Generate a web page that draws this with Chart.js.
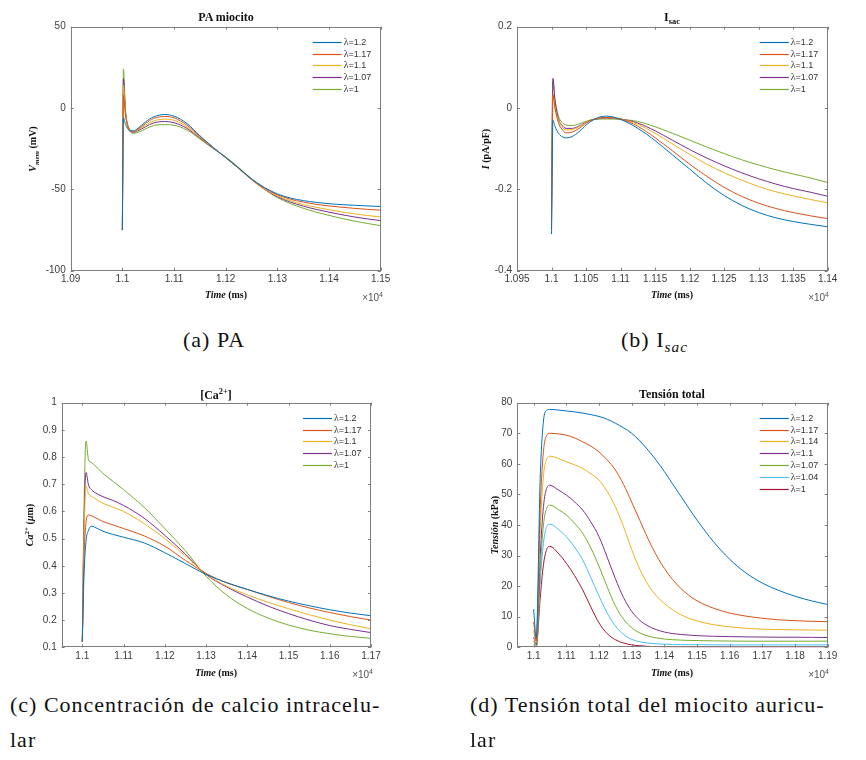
<!DOCTYPE html>
<html lang="es">
<head>
<meta charset="utf-8">
<title>Miocito auricular</title>
<script src="https://cdn.jsdelivr.net/npm/chart.js@4.4.1/dist/chart.umd.min.js"></script>
<style>
  html, body { margin: 0; padding: 0; background: #fff; }
  #page { position: relative; width: 866px; height: 760px; overflow: hidden; background: #fff; }
  canvas { position: absolute; }
  .lbl { position: absolute; white-space: nowrap; font-family: "Liberation Serif", "Times New Roman", serif; font-weight: bold; color: #111; line-height: 1; }
  .title { font-size: 12px; transform: translate(-50%, -50%); }
  .xlab { font-size: 10px; transform: translate(-50%, -50%); }
  .ylab { font-size: 10px; transform: translate(-50%, -50%) rotate(-90deg); }
  .exp { position: absolute; font-family: "Liberation Sans", Arial, sans-serif; font-size: 10px; color: #555; transform: translate(-100%, -50%); white-space: nowrap; line-height: 1; }
  .cap { position: absolute; font-family: "Liberation Serif", serif; font-size: 22px; color: #111; letter-spacing: 1px; white-space: nowrap; line-height: 1; transform: translateY(-50%); }
  sub, sup { font-size: 70%; line-height: 0; }
</style>
</head>
<body>
<div id="page">
  <canvas id="chartPA" width="433" height="310" style="left:0;top:0"></canvas>
  <canvas id="chartIsac" width="433" height="310" style="left:433px;top:0"></canvas>
  <canvas id="chartCa" width="433" height="300" style="left:0;top:380px"></canvas>
  <canvas id="chartTen" width="433" height="300" style="left:433px;top:380px"></canvas>

  <div class="lbl title" style="left:226px;top:17px">PA miocito</div>
  <div class="lbl xlab" style="left:226px;top:295px"><i>Time</i> (ms)</div>
  <div class="lbl ylab" style="left:33px;top:149px"><i>V<sub>mem</sub></i> (mV)</div>
  <div class="exp" style="left:383px;top:298px">&times;10<sup>4</sup></div>

  <div class="lbl title" style="left:672px;top:17px">I<sub>sac</sub></div>
  <div class="lbl xlab" style="left:672px;top:295px"><i>Time</i> (ms)</div>
  <div class="lbl ylab" style="left:486px;top:149px"><i>I</i> (pA/pF)</div>
  <div class="exp" style="left:829px;top:298px">&times;10<sup>4</sup></div>

  <div class="lbl title" style="left:216px;top:395px">[Ca<sup>2+</sup>]</div>
  <div class="lbl xlab" style="left:216px;top:673px"><i>Time</i> (ms)</div>
  <div class="lbl ylab" style="left:30px;top:525px"><i>Ca</i><sup>2+</sup> (<i>&mu;</i>m)</div>
  <div class="exp" style="left:373px;top:675px">&times;10<sup>4</sup></div>

  <div class="lbl title" style="left:672px;top:394px">Tensión total</div>
  <div class="lbl xlab" style="left:672px;top:673px"><i>Time</i> (ms)</div>
  <div class="lbl ylab" style="left:495px;top:525px"><i>Tensión</i> (kPa)</div>
  <div class="exp" style="left:829px;top:675px">&times;10<sup>4</sup></div>

  <div class="cap" style="left:183px;top:340px">(a) PA</div>
  <div class="cap" style="left:621px;top:340px">(b) I<sub><i>sac</i></sub></div>
  <div class="cap" style="left:10px;top:705px">(c) Concentración de calcio intracelu-</div>
  <div class="cap" style="left:10px;top:740px">lar</div>
  <div class="cap" style="left:470px;top:705px">(d) Tensión total del miocito auricu-</div>
  <div class="cap" style="left:470px;top:740px">lar</div>
</div>

<script>
// legend entries
const lambdas5 = ['λ=1.2', 'λ=1.17', 'λ=1.1', 'λ=1.07', 'λ=1'];
const lambdas7 = ['λ=1.2', 'λ=1.17', 'λ=1.14', 'λ=1.1', 'λ=1.07', 'λ=1.04', 'λ=1'];

// (a) potencial de accion, time in ms x10^4
const paTime = [1.1, 1.1002, 1.1006, 1.101, 1.1015, 1.1022, 1.103, 1.1045, 1.106, 1.1082, 1.11, 1.1125,
  1.115, 1.1175, 1.12, 1.1225, 1.125, 1.1275, 1.13, 1.1325, 1.135, 1.1375, 1.14, 1.1425, 1.145, 1.1475, 1.15];
const pa120 = [-75, -6, -10, -12.5, -14, -14, -12.5, -8.5, -5.5, -4, -5, -9.5, -17, -24, -30.5, -37, -43.5, -48.8, -52.8, -55.3, -56.9, -58, -58.8, -59.4, -59.8, -60.2, -60.5];
const pa117 = [-75, 8, -4, -10, -13.5, -14.5, -13, -9.5, -6.5, -5.2, -6, -10.5, -17.5, -24, -30.5, -37, -43.8, -49.3, -53.3, -56, -57.8, -59.2, -60.2, -61, -61.7, -62.3, -62.8];
const pa110 = [-75, 14, -3, -10.5, -14, -14.8, -13.5, -10.5, -8, -6.8, -7.5, -11.5, -18, -24.3, -30.3, -37, -44, -49.8, -54, -57, -59.3, -61, -62.5, -63.9, -65.1, -66.1, -67];
const pa107 = [-75, 18, -2, -10.5, -14.2, -15, -14, -11.5, -9.2, -8.3, -9, -12.5, -18.5, -24.5, -30.3, -37, -44, -50, -54.5, -57.8, -60.3, -62.3, -64, -65.6, -67, -68.2, -69.2];
const pa100 = [-75, 24, -1, -11, -14.5, -15.5, -15, -12.8, -10.8, -10.2, -10.6, -13.5, -19, -24.8, -30, -36.5, -43.5, -49.8, -55, -58.7, -61.6, -64, -66, -67.9, -69.6, -71, -72.3];
const paXTicks = [1.09, 1.1, 1.11, 1.12, 1.13, 1.14, 1.15];
const paYTicks = [-100, -50, 0, 50];

// (b) corriente Isac
const isacTime = [1.1, 1.1002, 1.1005, 1.101, 1.1015, 1.1021, 1.103, 1.104, 1.1055, 1.107, 1.108, 1.11,
  1.1125, 1.115, 1.1175, 1.12, 1.1225, 1.125, 1.1275, 1.13, 1.1325, 1.135, 1.1375, 1.14];
const isac120 = [-0.31, -0.03, -0.045, -0.062, -0.07, -0.0735, -0.07, -0.058, -0.035, -0.022, -0.02, -0.028, -0.05, -0.08, -0.115, -0.15, -0.185, -0.215, -0.239, -0.257, -0.27, -0.279, -0.286, -0.292];
const isac117 = [-0.30, 0.034, 0.0, -0.036, -0.052, -0.061, -0.059, -0.05, -0.032, -0.024, -0.023, -0.027, -0.045, -0.073, -0.105, -0.138, -0.168, -0.195, -0.217, -0.234, -0.247, -0.257, -0.265, -0.272];
const isac110 = [-0.28, 0.03, 0.0, -0.03, -0.046, -0.054, -0.053, -0.046, -0.031, -0.025, -0.024, -0.027, -0.04, -0.062, -0.088, -0.114, -0.138, -0.159, -0.177, -0.193, -0.206, -0.216, -0.225, -0.233];
const isac107 = [-0.25, 0.073, 0.02, -0.026, -0.042, -0.05, -0.05, -0.044, -0.031, -0.026, -0.025, -0.027, -0.037, -0.056, -0.079, -0.102, -0.123, -0.142, -0.159, -0.174, -0.187, -0.198, -0.207, -0.217];
const isac100 = [-0.19, 0.067, 0.02, -0.02, -0.035, -0.042, -0.043, -0.039, -0.030, -0.027, -0.027, -0.028, -0.033, -0.046, -0.062, -0.079, -0.096, -0.112, -0.127, -0.14, -0.152, -0.162, -0.172, -0.183];
const isacXTicks = [1.095, 1.1, 1.105, 1.11, 1.115, 1.12, 1.125, 1.13, 1.135, 1.14];
const isacYTicks = [-0.4, -0.2, 0, 0.2];

// (c) calcio intracelular
const caTime = [1.1, 1.1004, 1.1009, 1.1015, 1.1022, 1.103, 1.105, 1.1075, 1.11, 1.115, 1.12, 1.125,
  1.13, 1.135, 1.14, 1.145, 1.15, 1.155, 1.16, 1.165, 1.17];
const ca120 = [0.12, 0.36, 0.49, 0.53, 0.546, 0.542, 0.527, 0.515, 0.505, 0.484, 0.448, 0.408, 0.368, 0.338, 0.313, 0.29, 0.27, 0.253, 0.238, 0.226, 0.216];
const ca117 = [0.12, 0.42, 0.56, 0.587, 0.584, 0.578, 0.563, 0.55, 0.537, 0.51, 0.472, 0.42, 0.372, 0.337, 0.313, 0.288, 0.265, 0.245, 0.228, 0.213, 0.2];
const ca110 = [0.12, 0.5, 0.693, 0.665, 0.655, 0.648, 0.63, 0.615, 0.6, 0.555, 0.5, 0.436, 0.37, 0.325, 0.293, 0.266, 0.242, 0.22, 0.2, 0.183, 0.168];
const ca107 = [0.12, 0.55, 0.743, 0.697, 0.68, 0.67, 0.654, 0.64, 0.622, 0.575, 0.512, 0.443, 0.368, 0.322, 0.285, 0.252, 0.224, 0.2, 0.18, 0.166, 0.154];
const ca100 = [0.12, 0.6, 0.859, 0.79, 0.78, 0.77, 0.74, 0.71, 0.68, 0.615, 0.537, 0.455, 0.362, 0.292, 0.243, 0.208, 0.182, 0.163, 0.15, 0.14, 0.133];
const caXTicks = [1.1, 1.11, 1.12, 1.13, 1.14, 1.15, 1.16, 1.17];
const caYTicks = [0.1, 0.2, 0.3, 0.4, 0.5, 0.6, 0.7, 0.8, 0.9, 1];

// (d) tension total (kPa)
const tenTime = [1.1, 1.1008, 1.102, 1.103, 1.104, 1.105, 1.1075, 1.11, 1.1125, 1.115, 1.1175, 1.12,
  1.1225, 1.125, 1.1275, 1.13, 1.1325, 1.135, 1.1375, 1.14, 1.1425, 1.145, 1.1475, 1.15, 1.155, 1.16,
  1.165, 1.17, 1.175, 1.18, 1.185, 1.19];
const ten120 = [12.5, 3, 55, 74, 77.5, 77.8, 77.6, 77.3, 77, 76.6, 76.1, 75.5, 74.6, 73.3, 71.8, 70, 67.5, 64.5, 61.2, 57.5, 53.5, 49.5, 45.5, 41.6, 34.6, 28.8, 24.3, 21, 18.6, 16.7, 15.2, 14];
const ten117 = [8.3, 2, 45, 64, 69.3, 70, 69.8, 69.4, 68.5, 67.2, 65.8, 63.9, 61.3, 58, 53.3, 47.5, 41.5, 35.5, 30.2, 25.8, 22.2, 19.3, 17, 15.2, 12.8, 11.2, 10.2, 9.5, 9, 8.7, 8.5, 8.4];
const ten114 = [5.6, 1.5, 38, 56, 61.5, 62.5, 61.8, 60.7, 59.7, 58.5, 56.8, 54.7, 51, 46, 39.5, 32, 25.5, 20.5, 16.9, 14.3, 12.3, 10.7, 9.5, 8.6, 7.4, 6.7, 6.2, 5.9, 5.8, 5.7, 5.65, 5.6];
const ten110 = [3.3, 1, 30, 46, 52, 53, 51.5, 49.8, 47.6, 44.9, 41, 36.2, 29.5, 22.5, 16.3, 11.8, 8.8, 7, 5.8, 5, 4.5, 4.2, 4, 3.8, 3.6, 3.5, 3.4, 3.35, 3.3, 3.3, 3.25, 3.2];
const ten107 = [2, 0.5, 25, 40, 45.5, 46.5, 45.1, 43.3, 40.6, 37.3, 32.5, 26.5, 19.8, 13.6, 9.2, 6.4, 4.7, 3.7, 3.1, 2.7, 2.5, 2.35, 2.25, 2.2, 2.1, 2.05, 2, 2, 2, 2, 2, 2];
const ten104 = [0.9, 0.3, 21, 34, 39.5, 40.3, 38.6, 36.2, 32.8, 28.6, 22.8, 16.8, 11.3, 7, 4.2, 2.6, 1.8, 1.4, 1.15, 1, 0.95, 0.9, 0.85, 0.85, 0.8, 0.8, 0.8, 0.8, 0.8, 0.8, 0.8, 0.8];
const ten100 = [0.3, 0.1, 16, 27, 32, 33, 30.8, 27.5, 23.5, 18.8, 13.2, 8, 4.5, 2.5, 1.4, 0.8, 0.5, 0.3, 0.2, 0.1, 0.08, 0.05, 0.03, 0, 0, 0, 0, 0, 0, 0, 0, 0];
const tenXTicks = [1.1, 1.11, 1.12, 1.13, 1.14, 1.15, 1.16, 1.17, 1.18, 1.19];
const tenYTicks = [0, 10, 20, 30, 40, 50, 60, 70, 80];

// matlab default line colours
const matlabColors = ['#0072BD', '#D95319', '#EDB120', '#7E2F8E', '#77AC30', '#4DBEEE', '#A2142F'];
const tickColor = '#3c3c3c';
const tickFont = { family: '"Liberation Sans", Arial, sans-serif', size: 10 };

function fmtTick(v) {
    return String(+Number(v).toFixed(4));
}

// axes box with inward ticks on all four sides, like matlab "box on"
const boxTicks = {
    id: 'boxTicks',
    afterDraw(chart) {
        const { ctx, chartArea: a, scales } = chart;
        const len = 3;
        ctx.save();
        ctx.strokeStyle = '#7d7d7d';
        ctx.lineWidth = 1;
        ctx.strokeRect(Math.round(a.left) + 0.5, Math.round(a.top) + 0.5,
            Math.round(a.right) - Math.round(a.left) - 1, Math.round(a.bottom) - Math.round(a.top) - 1);
        ctx.beginPath();
        scales.x.ticks.forEach(t => {
            const px = Math.round(scales.x.getPixelForValue(t.value)) + 0.5;
            ctx.moveTo(px, a.bottom); ctx.lineTo(px, a.bottom - len);
            ctx.moveTo(px, a.top); ctx.lineTo(px, a.top + len);
        });
        scales.y.ticks.forEach(t => {
            const py = Math.round(scales.y.getPixelForValue(t.value)) + 0.5;
            ctx.moveTo(a.left, py); ctx.lineTo(a.left + len, py);
            ctx.moveTo(a.right, py); ctx.lineTo(a.right - len, py);
        });
        ctx.stroke();
        ctx.restore();
    }
};

// legend drawn inside the plot, top right, no frame
const insideLegend = {
    id: 'insideLegend',
    afterDraw(chart) {
        const { ctx, chartArea: a } = chart;
        ctx.save();
        chart.data.datasets.forEach((ds, i) => {
            const yy = Math.round(a.top + 15 + i * 11.8) + 0.5;
            ctx.strokeStyle = ds.borderColor;
            ctx.lineWidth = 1.2;
            ctx.beginPath();
            ctx.moveTo(a.right - 68, yy);
            ctx.lineTo(a.right - 39, yy);
            ctx.stroke();
            ctx.textBaseline = 'middle';
            ctx.fillStyle = '#333';
            ctx.font = '10px "Liberation Serif", serif';
            const sym = ds.label.charAt(0);
            ctx.fillText(sym, a.right - 37, yy);
            const w = ctx.measureText(sym).width;
            ctx.font = '9px "Liberation Sans", Arial, sans-serif';
            ctx.fillText(ds.label.slice(1), a.right - 37 + w, yy);
        });
        ctx.restore();
    }
};

function makeChart(id, cfg) {
    const canvas = document.getElementById(id);
    const W = canvas.width, H = canvas.height;
    const a = cfg.area;

    const datasets = cfg.series.map((ys, i) => ({
        label: cfg.labels[i],
        data: cfg.time.map((t, k) => ({ x: t, y: ys[k] })),
        borderColor: matlabColors[i],
        backgroundColor: matlabColors[i],
        borderWidth: 1,
        pointRadius: 0,
        fill: false,
        cubicInterpolationMode: 'monotone'
    }));

    return new Chart(canvas, {
        type: 'line',
        data: { datasets },
        options: {
            responsive: false,
            animation: false,
            events: [],
            layout: { padding: { left: 0, top: a.top, right: W - a.right, bottom: H - a.bottom - 20 } },
            plugins: { legend: { display: false }, tooltip: { enabled: false } },
            scales: {
                x: {
                    type: 'linear',
                    min: cfg.xMin,
                    max: cfg.xMax,
                    afterBuildTicks: s => { s.ticks = cfg.xTicks.map(v => ({ value: v })); },
                    afterFit: s => { s.height = 20; },
                    grid: { display: false, drawTicks: false },
                    border: { display: false },
                    ticks: { autoSkip: false, maxRotation: 0, padding: 3, color: tickColor, font: tickFont, callback: fmtTick }
                },
                y: {
                    type: 'linear',
                    min: cfg.yMin,
                    max: cfg.yMax,
                    afterBuildTicks: s => { s.ticks = cfg.yTicks.map(v => ({ value: v })); },
                    afterFit: s => { s.width = a.left; },
                    grid: { display: false, drawTicks: false },
                    border: { display: false },
                    ticks: { autoSkip: false, padding: 5, color: tickColor, font: tickFont, callback: fmtTick }
                }
            }
        },
        plugins: [boxTicks, insideLegend]
    });
}

makeChart('chartPA', {
    area: { left: 70.7, top: 26.7, right: 380.7, bottom: 270.7 },
    time: paTime,
    series: [pa120, pa117, pa110, pa107, pa100],
    labels: lambdas5,
    xMin: 1.09, xMax: 1.15, yMin: -100, yMax: 50,
    xTicks: paXTicks, yTicks: paYTicks
});

makeChart('chartIsac', {
    area: { left: 84, top: 26.7, right: 394.7, bottom: 270.7 },
    time: isacTime,
    series: [isac120, isac117, isac110, isac107, isac100],
    labels: lambdas5,
    xMin: 1.095, xMax: 1.14, yMin: -0.4, yMax: 0.2,
    xTicks: isacXTicks, yTicks: isacYTicks
});

makeChart('chartCa', {
    area: { left: 61.7, top: 22.7, right: 371, bottom: 267.3 },
    time: caTime,
    series: [ca120, ca117, ca110, ca107, ca100],
    labels: lambdas5,
    xMin: 1.095, xMax: 1.17, yMin: 0.1, yMax: 1,
    xTicks: caXTicks, yTicks: caYTicks
});

makeChart('chartTen', {
    area: { left: 84.3, top: 22.7, right: 394.7, bottom: 267.3 },
    time: tenTime,
    series: [ten120, ten117, ten114, ten110, ten107, ten104, ten100],
    labels: lambdas7,
    xMin: 1.095, xMax: 1.19, yMin: 0, yMax: 80,
    xTicks: tenXTicks, yTicks: tenYTicks
});
</script>
</body>
</html>
